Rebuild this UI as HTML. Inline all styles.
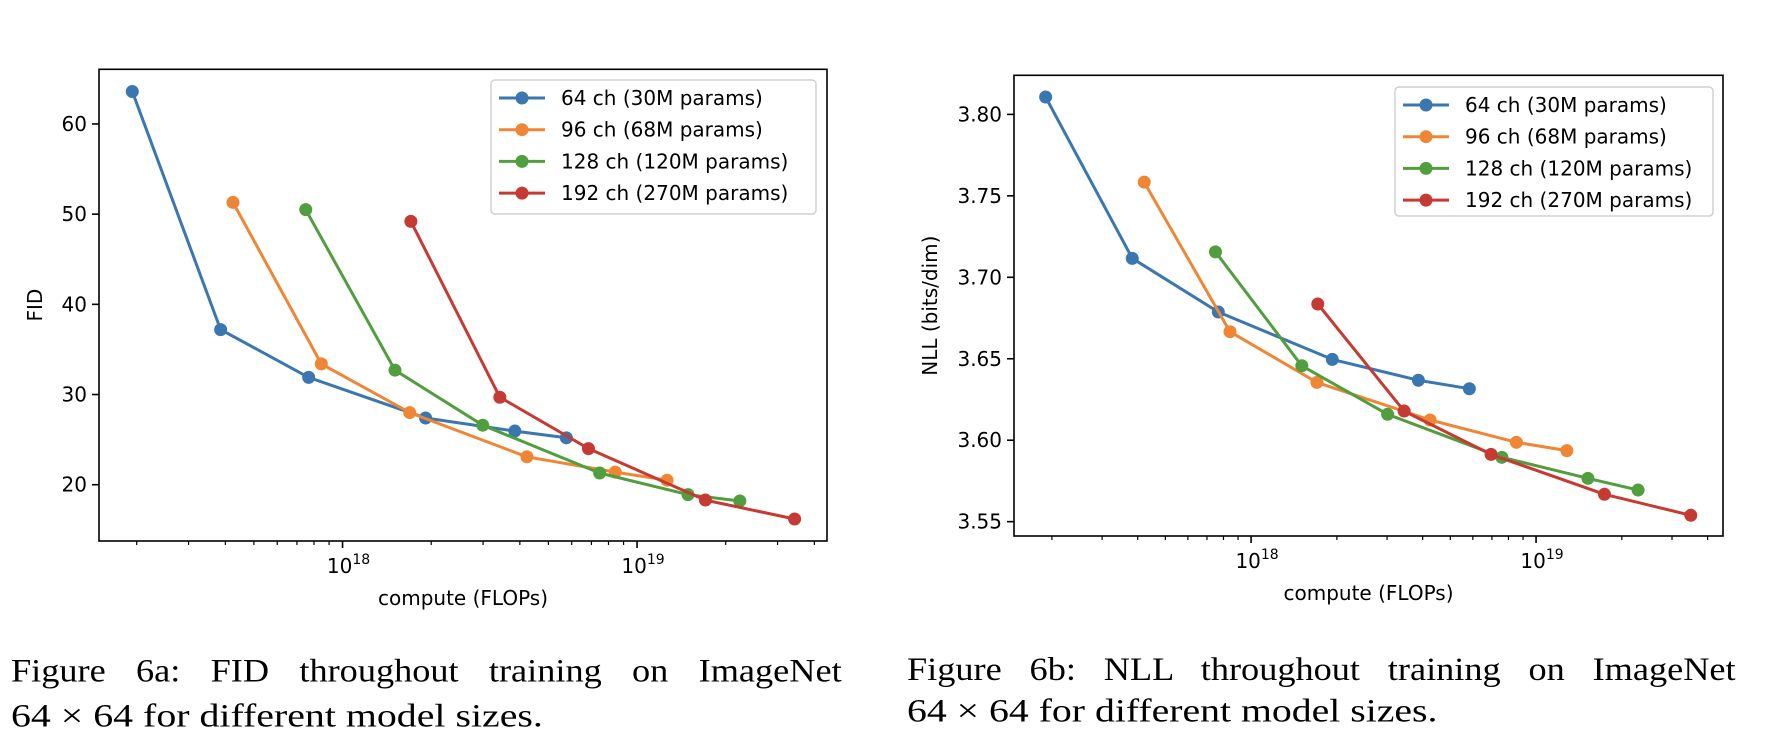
<!DOCTYPE html>
<html><head><meta charset="utf-8"><style>
html,body{margin:0;padding:0;background:#fff;}
svg{display:block;}
</style></head><body>
<svg id="fig" width="1766" height="752" xmlns="http://www.w3.org/2000/svg"></svg>
<script>
// ---- data (x values are log10 FLOPs) ----
const seriesNames = ["64 ch (30M params)","96 ch (68M params)","128 ch (120M params)","192 ch (270M params)"];
const seriesColors = ["#3a76af","#ef8636","#519e3e","#c53a32"];
const fidX64 = [17.286,17.586,17.885,18.282,18.585,18.760];
const fidY64 = [63.6,37.2,31.9,27.4,25.95,25.2];
const fidX96 = [17.628,17.928,18.228,18.626,18.926,19.102];
const fidY96 = [51.3,33.4,28.0,23.1,21.4,20.5];
const fidX128 = [17.875,18.178,18.476,18.873,19.173,19.349];
const fidY128 = [50.5,32.7,26.6,21.3,18.9,18.2];
const fidX192 = [18.232,18.534,18.835,19.232,19.535];
const fidY192 = [49.2,29.7,24.0,18.3,16.2];
const nllX64 = [17.279,17.583,17.885,18.285,18.587,18.766];
const nllY64 = [3.8107,3.7116,3.6787,3.6496,3.6368,3.6316];
const nllX96 = [17.625,17.926,18.231,18.628,18.931,19.108];
const nllY96 = [3.7584,3.6666,3.6355,3.6124,3.5987,3.5936];
const nllX128 = [17.875,18.178,18.479,18.880,19.182,19.358];
const nllY128 = [3.7156,3.6457,3.6159,3.5895,3.5766,3.5694];
const nllX192 = [18.234,18.537,18.842,19.240,19.543];
const nllY192 = [3.6836,3.6179,3.5913,3.5668,3.5539];
const fidTicks = [20,30,40,50,60];
const fidTickLabels = ["20","30","40","50","60"];
const nllTicks = [3.55,3.60,3.65,3.70,3.75,3.80];
const nllTickLabels = ["3.55","3.60","3.65","3.70","3.75","3.80"];
const xMajorTicks = [18,19];

const NS="http://www.w3.org/2000/svg";
const svg=document.getElementById('fig');
function mk(tag,attrs,parent){const e=document.createElementNS(NS,tag);for(const k in attrs)e.setAttribute(k,attrs[k]);(parent||svg).appendChild(e);return e;}
const SANS='"DejaVu Sans","Liberation Sans",sans-serif';

function drawChart(cfg){
  const g=mk('g',{});
  
  
  const L=cfg.box[0],T=cfg.box[1],R=cfg.box[2],B=cfg.box[3];
  const sx=v=>L+(v-cfg.xr[0])/(cfg.xr[1]-cfg.xr[0])*(R-L);
  const sy=v=>B-(v-cfg.yr[0])/(cfg.yr[1]-cfg.yr[0])*(B-T);
  cfg.series.forEach((s,i)=>{
    const sg=mk('g',{},g);
    
    
    const pts=s[0].map((x,j)=>sx(x).toFixed(1)+','+sy(s[1][j]).toFixed(1)).join(' ');
    const pl=mk('polyline',{points:pts,fill:'none',stroke:seriesColors[i],'stroke-width':3,'stroke-linejoin':'round'},sg);
    
    
    s[0].forEach((x,j)=>{
      const c=mk('circle',{cx:sx(x),cy:sy(s[1][j]),r:6.5,fill:seriesColors[i]},sg);
      
      
    });
  });
  const fr=mk('rect',{x:L,y:T,width:R-L,height:B-T,fill:'none',stroke:'#000','stroke-width':1.6},g);
  
  
  cfg.yt.forEach((v,i)=>{
    const y=sy(v);
    mk('line',{x1:L-7,x2:L,y1:y,y2:y,stroke:'#000','stroke-width':1.6},g);
    const t=mk('text',{x:L-12,y:y+7,'text-anchor':'end','font-size':20,'font-family':SANS,fill:'#000'},g);
    t.textContent=cfg.ytl[i];
    
    
  });
  for(let d=17;d<=19;d++){
    for(let m=1;m<=9;m++){
      const lv=d+Math.log10(m);
      if(lv<cfg.xr[0]||lv>cfg.xr[1])continue;
      const x=sx(lv);
      const major=(m===1);
      mk('line',{x1:x,x2:x,y1:B,y2:B+(major?7:4),stroke:'#000','stroke-width':major?1.6:1.2},g);
    }
  }
  xMajorTicks.forEach(d=>{
    const x=sx(d);
    const t=mk('text',{x:x+6,y:B+32,'text-anchor':'middle','font-size':20,'font-family':SANS,fill:'#000'},g);
    
    
    const a=mk('tspan',{},t);a.textContent='10';
    const b=mk('tspan',{dy:-9,'font-size':14},t);b.textContent=String(d);
  });
  const xl=mk('text',{x:(L+R)/2,y:cfg.xlY,'text-anchor':'middle','font-size':20,'font-family':SANS,fill:'#000'},g);
  xl.textContent='compute (FLOPs)';
  
  
  const yl=mk('text',{x:0,y:0,'text-anchor':'middle','font-size':20,'font-family':SANS,fill:'#000',transform:`translate(${cfg.ylX},${(T+B)/2}) rotate(-90)`},g);
  yl.textContent=cfg.ylabel;
  
  
  const lg=mk('g',{},g);
  
  
  const lx=cfg.leg[0],ly=cfg.leg[1],lw=cfg.leg[2],lh=cfg.leg[3];
  mk('rect',{x:lx,y:ly,width:lw,height:lh,rx:4,fill:'#fff','fill-opacity':0.85,stroke:'#d0d0d0','stroke-width':1.5},lg);
  seriesNames.forEach((n,i)=>{
    const ry=ly+18+i*31.7;
    const e=mk('g',{},lg);
    
    
    mk('line',{x1:lx+8,x2:lx+54,y1:ry,y2:ry,stroke:seriesColors[i],'stroke-width':3},e);
    mk('circle',{cx:lx+31,cy:ry,r:6.5,fill:seriesColors[i]},e);
    const t=mk('text',{x:lx+70,y:ry+7,'font-size':20,'font-family':SANS,fill:'#000'},e);
    t.textContent=n;
  });
}

drawChart({name:'fid-chart',box:[99,69.3,827,541],xr:[17.173,19.645],yr:[13.76,66.06],
  series:[[fidX64,fidY64],[fidX96,fidY96],[fidX128,fidY128],[fidX192,fidY192]],
  yt:fidTicks,ytl:fidTickLabels,ylabel:'FID',ylX:42,xlY:605,leg:[491,80,325,134]});
drawChart({name:'nll-chart',box:[1014,75.3,1723,536],xr:[17.168,19.656],yr:[3.5412,3.824],
  series:[[nllX64,nllY64],[nllX96,nllY96],[nllX128,nllY128],[nllX192,nllY192]],
  yt:nllTicks,ytl:nllTickLabels,ylabel:'NLL (bits/dim)',ylX:937,xlY:600,leg:[1395,87,318,129]});

// captions: fit to measured widths (word-spacing for justified line, glyph scale for line 2)
function cap(x,y,txt,width,justify,name){
  const t=mk('text',{x:0,y:0,'font-size':33,'font-family':'"Liberation Serif","Times New Roman",serif',fill:'#000'});
  t.textContent=txt;
  
  
  const w=t.getComputedTextLength();
  if(justify){
    const gaps=txt.split(' ').length-1;
    const natural=w;
    // scale glyphs horizontally a bit like the reference, then justify with word spacing
    const sx=1.1;
    const extra=(width/sx-natural)/gaps;
    t.setAttribute('word-spacing',extra.toFixed(2));
    t.setAttribute('transform',`translate(${x},${y}) scale(${sx},1)`);
  } else {
    const sx=width/w;
    t.setAttribute('transform',`translate(${x},${y}) scale(${sx.toFixed(3)},1)`);
  }
}
cap(11,681.7,'Figure 6a: FID throughout training on ImageNet',831,true,'caption-6a-line1');
cap(11,726.7,'64 \u00d7 64 for different model sizes.',532,false,'caption-6a-line2');
cap(907,680,'Figure 6b: NLL throughout training on ImageNet',829,true,'caption-6b-line1');
cap(907,721.7,'64 \u00d7 64 for different model sizes.',531,false,'caption-6b-line2');
</script>
</body></html>
